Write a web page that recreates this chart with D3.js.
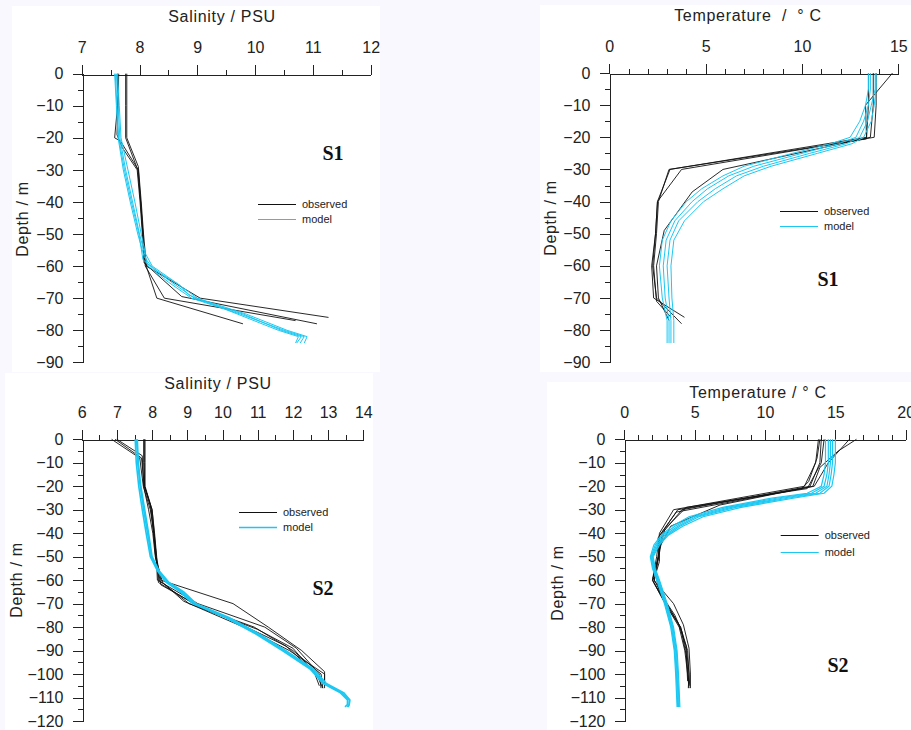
<!DOCTYPE html>
<html>
<head>
<meta charset="utf-8">
<script src="https://cdn.jsdelivr.net/npm/d3@7"></script>
<style>
  html, body { margin: 0; padding: 0; background: #f8f8fe; }
  svg { display: block; }
  .tick text { font-family: "Liberation Sans", Arial, sans-serif; font-size: 16px; fill: #222; }
  .axis path, .axis line { stroke: #222; shape-rendering: crispEdges; }
</style>
</head>
<body>
<svg id="chart" width="911" height="730"></svg>
<script>
// S1 salinity, [value, depth]
const sal1Observed = [
  [[7.78, 0], [7.78, -10], [7.78, -20], [7.98, -29], [8.03, -40], [8.07, -50], [8.12, -60], [9.05, -70], [11.27, -76]],
  [[7.76, 0], [7.76, -10], [7.76, -20], [7.97, -30], [8.02, -40], [8.06, -50], [8.08, -59], [8.73, -69.5], [11.07, -78]],
  [[7.62, 0], [7.62, -10], [7.57, -20], [7.67, -21], [7.98, -30], [8.02, -40], [8.06, -50], [8.1, -60], [8.43, -70], [10.7, -77]],
  [[7.64, 0], [7.63, -10], [7.61, -19], [7.7, -23], [7.96, -30], [8.01, -40], [8.05, -50], [8.08, -58], [8.3, -70], [9.79, -78]]
]
const sal1Model = [
  [[7.57, 0], [7.6, -10], [7.63, -20], [7.72, -30], [7.84, -40], [7.97, -50], [8.08, -57], [8.2, -60], [8.55, -65], [8.95, -70], [9.8, -75], [10.45, -80], [10.8, -82], [10.72, -84]],
  [[7.6, 0], [7.63, -10], [7.66, -20], [7.76, -30], [7.88, -40], [8.0, -50], [8.1, -57], [8.15, -60], [8.5, -65], [8.9, -70], [9.75, -75], [10.5, -80], [10.85, -82], [10.78, -84]],
  [[7.62, 0], [7.65, -10], [7.68, -20], [7.8, -30], [7.92, -40], [8.03, -50], [8.1, -56], [8.22, -60], [8.62, -65], [9.0, -70], [9.85, -75], [10.55, -80], [10.9, -82], [10.85, -84]],
  [[7.58, 0], [7.61, -10], [7.64, -20], [7.74, -30], [7.86, -40], [7.99, -50], [8.06, -58], [8.25, -61], [8.7, -66], [8.85, -69], [9.7, -75], [10.4, -80], [10.75, -82], [10.7, -84]]
]

// S1 temperature
const temp1Observed = [
  [[14.7, 0], [13.3, -10], [13.35, -20], [3.15, -30], [2.5, -40], [2.4, -50], [2.2, -60], [2.3, -70], [3.9, -76]],
  [[13.85, 0], [13.85, -3], [13.85, -10], [13.75, -20], [3.75, -30], [2.5, -40], [2.4, -50], [2.25, -60], [2.45, -70], [3.75, -78]],
  [[13.7, 0], [13.7, -10], [13.55, -20], [5.9, -30], [4.3, -37], [2.85, -49], [2.45, -60], [2.55, -70], [3.1, -77]],
  [[13.45, 0], [13.45, -10], [13.35, -20.5], [3.1, -30], [2.55, -40], [2.45, -50], [2.3, -60], [2.45, -71], [3.2, -76]]
]
const temp1Model = [
  [[13.45, 0], [13.45, -5], [13.3, -10], [13.0, -15], [12.5, -20], [11.5, -22], [9.5, -25], [7.0, -29], [5.9, -32], [4.8, -36], [4.0, -40], [3.2, -46], [2.75, -52], [2.6, -60], [2.75, -70], [3.0, -77], [3.0, -84]],
  [[13.55, 0], [13.55, -5], [13.45, -10], [13.2, -15], [12.8, -20], [11.9, -22], [10.0, -25], [7.5, -29], [6.2, -32], [5.1, -36], [4.3, -40], [3.4, -46], [2.95, -52], [2.8, -60], [2.9, -70], [3.1, -77], [3.1, -84]],
  [[13.8, 0], [13.8, -5], [13.6, -10], [13.4, -15], [13.0, -20], [12.3, -22], [10.4, -25], [8.0, -29], [6.6, -32], [5.5, -36], [4.6, -40], [3.6, -46], [3.15, -52], [3.0, -60], [3.1, -70], [3.2, -77], [3.2, -84]],
  [[13.85, 0], [13.85, -5], [13.75, -10], [13.6, -15], [13.2, -20], [12.6, -22], [10.8, -25], [8.4, -29], [7.0, -32], [5.9, -36], [4.9, -40], [3.9, -46], [3.35, -52], [3.2, -60], [3.25, -70], [3.35, -77], [3.35, -84]]
]

// S2 salinity
const sal2Observed = [
  [[6.85, 0], [7.65, -8], [7.75, -20], [7.95, -30], [8.05, -40], [8.1, -50], [8.2, -60], [9.05, -70], [10.9, -80], [12.0, -90], [12.8, -100], [12.85, -106]],
  [[6.95, 0], [7.7, -8], [7.78, -20], [8.0, -30], [8.06, -40], [8.12, -50], [8.25, -60], [10.3, -70], [11.3, -80], [12.25, -90], [12.9, -99], [12.9, -106]],
  [[7.78, 0], [7.78, -10], [7.78, -20], [7.95, -28], [8.05, -40], [8.12, -50], [8.15, -60], [9.3, -70], [11.2, -80], [12.1, -89], [12.75, -100], [12.8, -106]],
  [[7.8, 0], [7.8, -10], [7.8, -20], [8.0, -30], [8.07, -40], [8.13, -50], [8.18, -61], [9.4, -72], [11.0, -81], [12.0, -89], [12.7, -101], [12.85, -106]],
  [[7.76, 0], [7.76, -10], [7.79, -20], [7.98, -30], [8.04, -40], [8.1, -50], [8.25, -62], [9.2, -70], [10.4, -78], [11.8, -88], [12.6, -99], [12.75, -105]],
  [[7.0, 0], [7.72, -7], [7.76, -20], [7.9, -30], [8.02, -40], [8.09, -50], [8.3, -61], [8.9, -69], [10.6, -80], [11.9, -90], [12.9, -100], [12.9, -105]]
]
const sal2Model = [
  [[7.52, 0], [7.55, -10], [7.62, -20], [7.72, -30], [7.83, -40], [7.95, -50], [8.15, -56], [8.4, -61], [8.8, -65], [9.15, -70], [10.1, -76], [10.95, -83], [11.7, -90], [12.5, -98], [12.85, -104], [13.35, -108], [13.55, -111], [13.55, -113], [13.48, -114]],
  [[7.56, 0], [7.59, -10], [7.66, -20], [7.76, -30], [7.87, -40], [7.98, -50], [8.18, -56], [8.45, -61], [8.85, -65], [9.2, -70], [10.15, -76], [11.0, -83], [11.75, -90], [12.55, -98], [12.9, -104], [13.4, -108], [13.6, -111], [13.6, -113], [13.55, -114]],
  [[7.58, 0], [7.61, -10], [7.68, -20], [7.79, -30], [7.9, -40], [8.0, -50], [8.2, -56], [8.48, -61], [8.9, -65], [9.25, -70], [10.2, -76], [11.05, -83], [11.8, -90], [12.6, -98], [12.95, -104], [13.45, -108], [13.62, -111], [13.6, -113], [13.57, -114]]
]

// S2 temperature
const temp2Observed = [
  [[13.8, 0], [13.6, -10], [12.8, -20], [3.5, -30], [2.5, -40], [2.3, -50], [2.0, -60], [2.9, -70], [3.9, -80], [4.3, -90], [4.5, -100], [4.6, -106]],
  [[14.0, 0], [13.9, -10], [13.2, -20], [4.1, -30], [2.7, -40], [2.4, -50], [2.05, -59], [3.0, -70], [4.0, -80], [4.5, -90], [4.6, -100], [4.65, -105]],
  [[16.0, 0], [14.5, -10], [13.5, -20], [3.7, -31], [2.5, -41], [2.5, -52], [2.1, -60], [3.5, -70], [4.2, -79], [4.6, -89], [4.7, -100], [4.7, -106]],
  [[16.5, 0], [15.2, -5], [13.9, -12], [13.4, -20], [6.8, -28], [3.3, -37], [2.6, -45], [2.3, -55], [2.1, -61], [2.9, -69], [3.8, -78], [4.4, -88], [4.6, -100], [4.55, -106]],
  [[14.2, 0], [14.0, -10], [13.0, -21], [4.4, -29], [2.9, -38], [2.5, -47], [2.2, -57], [2.5, -65], [3.6, -75], [4.1, -82], [4.4, -90], [4.5, -103]],
  [[13.9, 0], [13.7, -8], [13.1, -18], [12.6, -21], [3.8, -30], [2.4, -42], [2.45, -50], [2.0, -60], [3.1, -72], [4.0, -80], [4.4, -92], [4.6, -104]]
]
const temp2Model = [
  [[14.3, 0], [14.3, -10], [14.2, -15], [14.0, -20], [13.0, -23], [10.5, -25], [7.0, -29], [4.6, -33], [3.4, -37], [2.6, -41], [2.1, -45], [1.85, -50], [2.0, -55], [2.3, -60], [2.85, -70], [3.3, -80], [3.55, -90], [3.65, -100], [3.75, -114]],
  [[14.5, 0], [14.5, -10], [14.4, -15], [14.2, -20], [13.3, -23], [10.9, -25], [7.3, -29], [4.9, -33], [3.6, -37], [2.7, -41], [2.2, -45], [1.9, -50], [2.05, -55], [2.35, -60], [2.9, -70], [3.35, -80], [3.6, -90], [3.7, -100], [3.8, -114]],
  [[14.65, 0], [14.65, -10], [14.55, -15], [14.4, -20], [13.6, -23], [11.3, -25], [7.6, -29], [5.1, -33], [3.8, -37], [2.85, -41], [2.3, -45], [1.95, -50], [2.1, -55], [2.4, -60], [2.95, -70], [3.4, -80], [3.65, -90], [3.75, -100], [3.85, -114]],
  [[14.8, 0], [14.8, -10], [14.7, -15], [14.55, -20], [13.9, -23], [11.7, -25], [7.9, -29], [5.3, -33], [3.95, -37], [3.0, -41], [2.4, -45], [2.0, -50], [2.15, -55], [2.45, -60], [3.0, -70], [3.45, -80], [3.7, -90], [3.8, -100], [3.9, -114]],
  [[15.0, 0], [15.0, -10], [14.9, -15], [14.75, -20], [14.2, -23], [12.1, -25], [8.3, -29], [5.6, -33], [4.15, -37], [3.1, -41], [2.5, -45], [2.05, -50], [2.2, -55], [2.5, -60], [3.05, -70], [3.5, -80], [3.75, -90], [3.85, -100], [3.95, -114]]
]

// axis ticks
const sal1Ticks = [7, 8, 9, 10, 11, 12]
const temp1Ticks = [0, 5, 10, 15]
const sal2Ticks = [6, 7, 8, 9, 10, 11, 12, 13, 14]
const temp2Ticks = [0, 5, 10, 15, 20]
const depth1Ticks = [0, -10, -20, -30, -40, -50, -60, -70, -80, -90]
const depth2Ticks = [0, -10, -20, -30, -40, -50, -60, -70, -80, -90, -100, -110, -120]

const salTitle = 'Salinity / PSU'
const tempTitle1 = 'Temperature  /  \u00b0 C'
const tempTitle2 = 'Temperature / \u00b0 C'
const depthTitle = 'Depth / m'
const legendLabels = ['observed', 'model']

const OBS_COLOR = '#111'
const MODEL_COLOR = '#1cc8f2'

const svg = d3.select('#chart')

const panels = [
  {box: [12, 6, 368, 366], xDomain: [7, 12], xRange: [81.7, 370.7], minorStep: 0.5, yDomain: [0, -90], yRange: [73.7, 362.3],
    xTicks: sal1Ticks, yTicks: depth1Ticks, title: salTitle, titleAt: [222, 22], yTitleAt: [22, 219],
    legend: [258, 204, 15], station: 'S1', stationAt: [333, 160], observed: sal1Observed, model: sal1Model, modelWidth: 1},
  {box: [540, 5, 371, 367], xDomain: [0, 15], xRange: [609.3, 898.3], minorStep: 1, yDomain: [0, -90], yRange: [73, 362.3],
    xTicks: temp1Ticks, yTicks: depth1Ticks, title: tempTitle1, titleAt: [748, 21], yTitleAt: [550, 218],
    legend: [780, 211, 15], station: 'S1', stationAt: [828, 286], observed: temp1Observed, model: temp1Model, modelWidth: 1},
  {box: [5, 373, 368, 357], xDomain: [6, 14], xRange: [81.7, 363.3], minorStep: 0.5, yDomain: [0, -120], yRange: [439.3, 721],
    xTicks: sal2Ticks, yTicks: depth2Ticks, title: salTitle, titleAt: [218, 389], yTitleAt: [16, 580],
    legend: [239, 511.7, 15], station: 'S2', stationAt: [323, 595], observed: sal2Observed, model: sal2Model, modelWidth: 1.6},
  {box: [547, 382, 364, 348], xDomain: [0, 20], xRange: [624.3, 905.7], minorStep: 1, yDomain: [0, -120], yRange: [439.3, 721],
    xTicks: temp2Ticks, yTicks: depth2Ticks, title: tempTitle2, titleAt: [758, 398], yTitleAt: [557, 583],
    legend: [780.7, 535, 16.5], station: 'S2', stationAt: [838, 672], observed: temp2Observed, model: temp2Model, modelWidth: 1.2}
]

function drawPanel(p) {
  const g = svg.append('g')

  g.append('rect')
    .attr('x', p.box[0]).attr('y', p.box[1])
    .attr('width', p.box[2]).attr('height', p.box[3])
    .attr('fill', '#fff')

  const x = d3.scaleLinear().domain(p.xDomain).range(p.xRange)
  const y = d3.scaleLinear().domain(p.yDomain).range(p.yRange)

  // minor ticks
  const xMinor = d3.range(p.xDomain[0], p.xDomain[1] + 1e-9, p.minorStep)
  const yMinor = d3.range(p.yDomain[0], p.yDomain[1] - 1e-9, -5)
  g.append('g').attr('class', 'axis')
    .attr('transform', `translate(0,${Math.round(y(0)) + 0.5})`)
    .call(d3.axisTop(x).tickValues(xMinor).tickSize(5).tickFormat(''))
    .call(a => a.select('.domain').remove())
  g.append('g').attr('class', 'axis')
    .attr('transform', `translate(${Math.round(x(p.xDomain[0])) + 0.5},0)`)
    .call(d3.axisLeft(y).tickValues(yMinor).tickSize(5).tickFormat(''))
    .call(a => a.select('.domain').remove())

  // major ticks with labels
  g.append('g').attr('class', 'axis')
    .attr('transform', `translate(0,${Math.round(y(0)) + 0.5})`)
    .call(d3.axisTop(x).tickValues(p.xTicks).tickSize(10).tickSizeOuter(0).tickPadding(12).tickFormat(d3.format('d')))
  g.append('g').attr('class', 'axis')
    .attr('transform', `translate(${Math.round(x(p.xDomain[0])) + 0.5},0)`)
    .call(d3.axisLeft(y).tickValues(p.yTicks).tickSize(10).tickSizeOuter(0).tickPadding(9).tickFormat(d3.format('d')))

  // profiles
  const line = d3.line().x(d => x(d[0])).y(d => y(d[1]))
  g.append('g').selectAll('path').data(p.observed).join('path')
    .attr('d', line).attr('fill', 'none').attr('stroke', OBS_COLOR).attr('stroke-width', 0.9)
  g.append('g').selectAll('path').data(p.model).join('path')
    .attr('d', line).attr('fill', 'none').attr('stroke', MODEL_COLOR).attr('stroke-width', p.modelWidth)

  // titles
  g.append('text')
    .attr('x', p.titleAt[0]).attr('y', p.titleAt[1])
    .attr('text-anchor', 'middle')
    .style('font-family', '"Liberation Sans", Arial, sans-serif')
    .style('font-size', '16px').style('letter-spacing', '0.7px').style('white-space', 'pre')
    .attr('fill', '#222')
    .text(p.title)
  g.append('text')
    .attr('transform', `translate(${p.yTitleAt[0]},${p.yTitleAt[1]}) rotate(-90)`)
    .attr('text-anchor', 'middle').attr('dy', '0.35em')
    .style('font-family', '"Liberation Sans", Arial, sans-serif')
    .style('font-size', '16px').style('letter-spacing', '0.7px')
    .attr('fill', '#222')
    .text(depthTitle)

  // legend
  const [lx, ly, gap] = p.legend
  const leg = g.append('g')
  leg.selectAll('line').data(legendLabels).join('line')
    .attr('x1', lx).attr('x2', lx + 38)
    .attr('y1', (d, i) => Math.round(ly + i * gap) + 0.5).attr('y2', (d, i) => Math.round(ly + i * gap) + 0.5)
    .attr('stroke', (d, i) => i === 0 ? OBS_COLOR : MODEL_COLOR)
    .attr('stroke-width', (d, i) => i === 0 ? 1 : p.modelWidth)
  leg.selectAll('text').data(legendLabels).join('text')
    .attr('x', lx + 44).attr('y', (d, i) => ly + i * gap + 4)
    .style('font-family', '"Liberation Sans", Arial, sans-serif')
    .style('font-size', '11px')
    .attr('fill', '#222')
    .text(d => d)

  g.append('text')
    .attr('x', p.stationAt[0]).attr('y', p.stationAt[1])
    .attr('text-anchor', 'middle')
    .style('font-family', '"Liberation Serif", "Times New Roman", serif')
    .style('font-size', '20px').style('font-weight', 'bold')
    .attr('fill', '#111')
    .text(p.station)
}

panels.forEach(drawPanel)
</script>
</body>
</html>
